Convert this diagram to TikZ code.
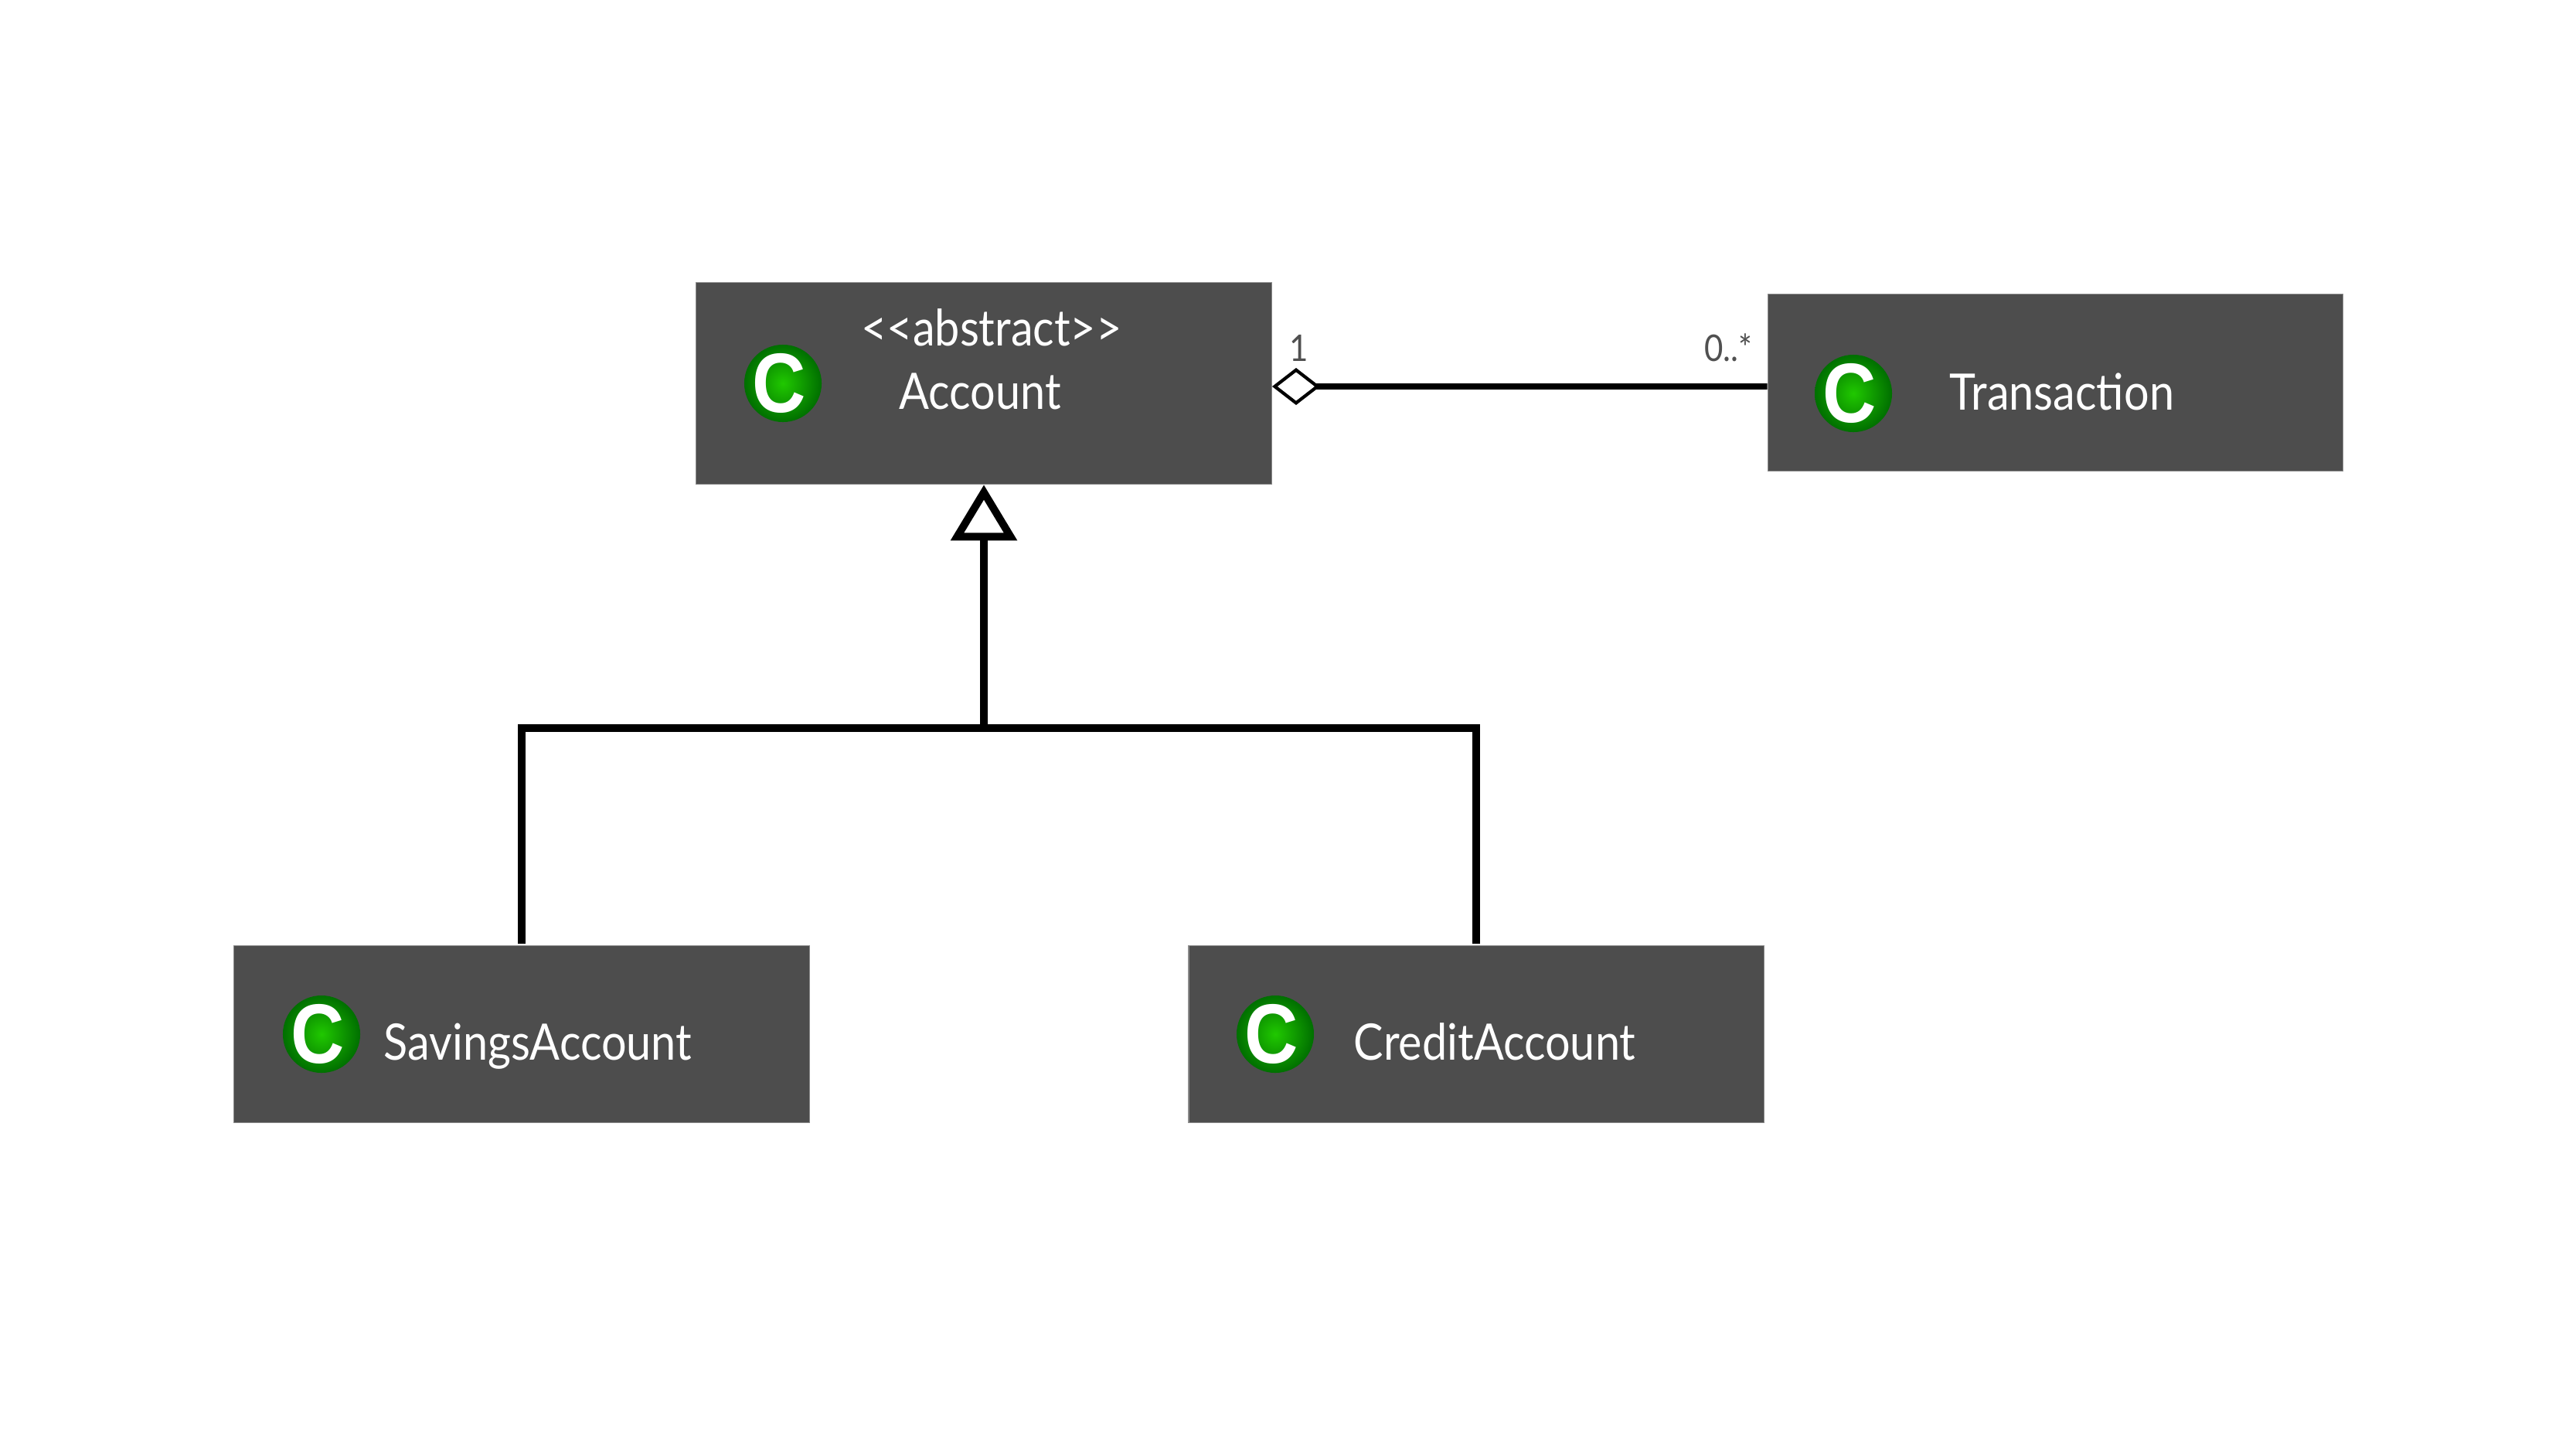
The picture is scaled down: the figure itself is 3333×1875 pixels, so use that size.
\documentclass[tikz,border=0pt]{standalone}
\usepackage{fontspec}
\setmainfont{Lato}
\newfontfamily\namefont[FakeStretch=0.885]{Lato}
\newfontfamily\letterfont[FakeStretch=0.88]{Liberation Sans}
\usetikzlibrary{arrows.meta,positioning}
\definecolor{boxgray}{HTML}{4D4D4D}
\definecolor{edgegray}{HTML}{8A8A8A}
\definecolor{labelgray}{HTML}{505050}
\definecolor{icondark}{HTML}{006F00}
\definecolor{iconlight}{HTML}{20C800}
\tikzset{
	classbox/.style={draw=edgegray,line width=.4pt,fill=boxgray,minimum width=7.44cm,minimum height=2.29cm,inner sep=0pt},
	classicon/.style={circle,minimum size=1cm,inner sep=0pt,inner color=iconlight,outer color=icondark},
	classletter/.style={text=white,font=\letterfont\fontsize{31}{31}\selectfont\bfseries,inner sep=0pt},
	classname/.style={text=white,font=\namefont\fontsize{18.5}{20}\selectfont,anchor=base,inner sep=0pt},
	multiplicity/.style={text=labelgray,font=\namefont\fontsize{13.5}{14}\selectfont,anchor=base,inner sep=0pt},
	link/.style={line width=2.2pt,black},
}
\begin{document}
\begin{tikzpicture}[x=.01cm,y=-.01cm,line join=miter]
	\useasboundingbox (0,0) rectangle (3333,1875);
	\node[classbox,minimum height=2.61cm] (account) at (1273,496) {};
	\node[classbox] (transaction) at (2659.5,495) {};
	\node[classbox] (savings) at (675,1338) {};
	\node[classbox] (credit) at (1910,1338) {};
	\foreach \name/\i/\j in {account/1013/496,transaction/2398/509,savings/416/1338,credit/1650/1338}{
		\node[classicon] (\name icon) at (\i,\j) {};
		\node[classletter] (\name letter) at (\i-5,\j) {C};
	}
	\node[classname] (accountstereo) at (1283,447) {{<}{<}abstract{>}{>}};
	\node[classname] (accountname) at (1268,529) {Account};
	\node[classname] (transactionname) at (2668,530) {Transaction};
	\node[classname] (savingsname) at (696,1371) {SavingsAccount};
	\node[classname] (creditname) at (1934,1371) {CreditAccount};
	\node[multiplicity] (accountend) at (1681,467) {1};
	\node[multiplicity] (transactionend) at (2236,467) {0..*};
	\coordinate (branch) at (1273,942);
	\draw[link,{Diamond[open,fill=white,length=.62cm,width=.48cm,line width=1.2pt]}-] ([yshift=-.04cm]account.east) -- ([yshift=-.05cm]transaction.west);
	\draw[link,line width=2.7pt,shorten <=.02cm,shorten >=.02cm] (savings.north) |- (branch) -| (credit.north);
	\draw[link,line width=2.7pt,-{Triangle[open,fill=white,length=.72cm,width=.84cm,line width=2.8pt]}] (branch) -- (account.south);
\end{tikzpicture}
\end{document}
